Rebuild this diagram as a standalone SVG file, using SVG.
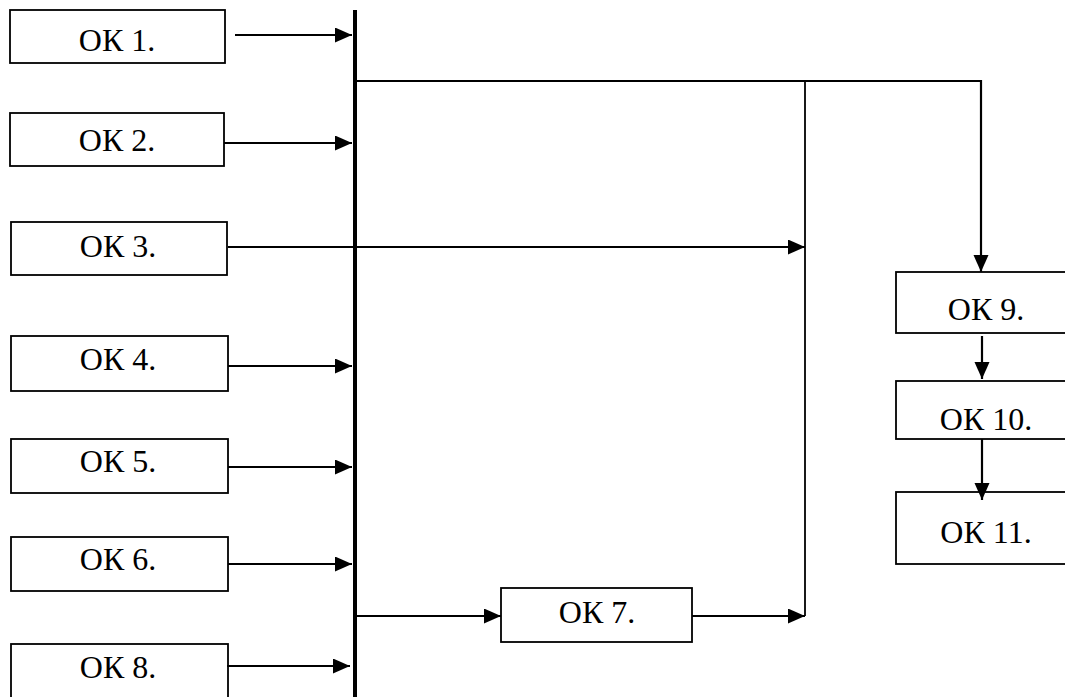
<svg xmlns="http://www.w3.org/2000/svg" width="1065" height="697" viewBox="0 0 1065 697">
<style>
.box{fill:#fff;stroke:#000;stroke-width:1.8}
.lbl{font-family:"Liberation Serif","Times New Roman",serif;font-size:32px;fill:#000;text-anchor:middle}
.ln{fill:none;stroke:#000;stroke-width:2.2}
.thin{fill:none;stroke:#000;stroke-width:1.8}
</style>
<defs>
<marker id="ah" markerUnits="userSpaceOnUse" markerWidth="19" markerHeight="17" refX="17" refY="7.5" orient="auto">
<path d="M0,0 L17,7.5 L0,15 z" fill="#000"/>
</marker>
</defs>
<rect width="1065" height="697" fill="#fff"/>
<g id="ok1"><rect class="box" x="10" y="10" width="215" height="53"/><text class="lbl" x="117" y="51">ОК 1.</text></g>
<g id="ok2"><rect class="box" x="10" y="113" width="214" height="53"/><text class="lbl" x="117" y="151">ОК 2.</text></g>
<g id="ok3"><rect class="box" x="11" y="222" width="216" height="53"/><text class="lbl" x="118" y="257">ОК 3.</text></g>
<g id="ok4"><rect class="box" x="11" y="336" width="217" height="55"/><text class="lbl" x="118" y="370">ОК 4.</text></g>
<g id="ok5"><rect class="box" x="11" y="439" width="217" height="54"/><text class="lbl" x="118" y="472">ОК 5.</text></g>
<g id="ok6"><rect class="box" x="11" y="537" width="217" height="54"/><text class="lbl" x="118" y="570">ОК 6.</text></g>
<g id="ok8"><rect class="box" x="11" y="644" width="217" height="60"/><text class="lbl" x="118" y="678">ОК 8.</text></g>
<g id="ok7"><rect class="box" x="501" y="588" width="191" height="54"/><text class="lbl" x="597" y="623">ОК 7.</text></g>
<g id="ok9"><rect class="box" x="896" y="272" width="220" height="61"/><text class="lbl" x="986" y="320">ОК 9.</text></g>
<g id="ok10"><rect class="box" x="896" y="381" width="220" height="58"/><text class="lbl" x="986" y="430">ОК 10.</text></g>
<g id="ok11"><rect class="box" x="896" y="492" width="220" height="72"/><text class="lbl" x="986" y="543">ОК 11.</text></g>
<g id="connectors">
<line class="ln" x1="235" y1="35" x2="352" y2="35" marker-end="url(#ah)"/>
<line class="ln" x1="224" y1="143" x2="352" y2="143" marker-end="url(#ah)"/>
<line class="ln" x1="228" y1="247" x2="805" y2="247" marker-end="url(#ah)"/>
<line class="ln" x1="228" y1="366" x2="352" y2="366" marker-end="url(#ah)"/>
<line class="ln" x1="228" y1="467" x2="352" y2="467" marker-end="url(#ah)"/>
<line class="ln" x1="228" y1="564" x2="352" y2="564" marker-end="url(#ah)"/>
<line class="ln" x1="227" y1="666" x2="350" y2="666" marker-end="url(#ah)"/>
<line class="ln" x1="357" y1="616" x2="501" y2="616" marker-end="url(#ah)"/>
<line class="ln" x1="692" y1="616" x2="805" y2="616" marker-end="url(#ah)"/>
<line class="thin" x1="357" y1="81" x2="981" y2="81"/>
<line class="ln" x1="981" y1="80" x2="981" y2="272" marker-end="url(#ah)"/>
<line class="thin" x1="805" y1="81" x2="805" y2="616"/>
<line class="ln" x1="982" y1="336" x2="982" y2="379" marker-end="url(#ah)"/>
<line class="ln" x1="982" y1="439" x2="982" y2="500" marker-end="url(#ah)"/>
<line x1="355" y1="10" x2="355" y2="697" stroke="#000" stroke-width="4"/>
</g>
</svg>
